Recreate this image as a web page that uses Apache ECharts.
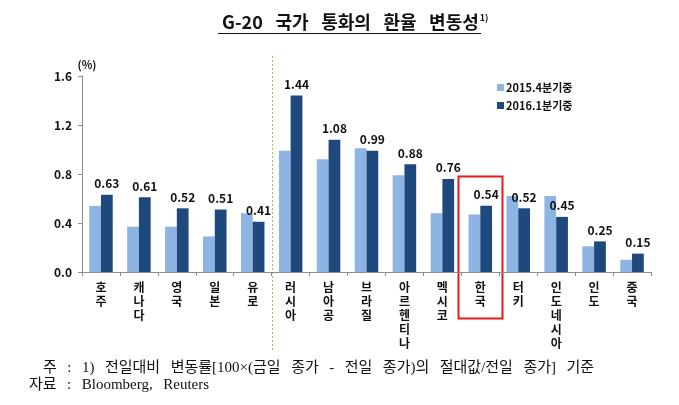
<!DOCTYPE html>
<html><head><meta charset="utf-8">
<script src="https://cdn.jsdelivr.net/npm/echarts@6/dist/echarts.min.js"></script>
<style>html,body{margin:0;padding:0;background:#fff}#c{width:679px;height:405px}</style>
</head><body><div id="c"></div>
<script>
const categories = ['호주','캐나다','영국','일본','유로','러시아','남아공','브라질','아르헨티나','멕시코','한국','터키','인도네시아','인도','중국'];
const q4_2015 = [0.54,0.37,0.37,0.29,0.48,0.99,0.92,1.01,0.79,0.48,0.47,0.62,0.62,0.21,0.10];
const q1_2016 = [0.63,0.61,0.52,0.51,0.41,1.44,1.08,0.99,0.88,0.76,0.54,0.52,0.45,0.25,0.15];
const seriesNames = ['2015.4분기중','2016.1분기중'];
const yMin = 0, yMax = 1.6, yStep = 0.4;
const titleText = 'G-20 국가 통화의 환율 변동성';
const noteLine1 = '주 : 1) 전일대비 변동률[100×(금일 종가 - 전일 종가)의 절대값/전일 종가] 기준';
const noteLine2 = '자료 : Bloomberg, Reuters';

const KR = '"Noto Sans CJK KR", "Noto Sans", sans-serif';
const SERIF = '"Liberation Serif", "DejaVu Serif", "Noto Sans CJK KR", serif';
const wide = s => s.replace(/ /g, '\u2002\u2009');
const chart = echarts.init(document.getElementById('c'), null, {renderer:'canvas'});
const option = {
  animation: false,
  backgroundColor: '#fff',
  title: [
    { text: '{a|' + wide(titleText) + '}{s|1)}', left: 217, top: 8,
      textStyle: { rich: {
        a: { fontFamily: KR, fontSize: 18, fontWeight: 'bold', color: '#111' },
        s: { fontFamily: KR, fontSize: 9, fontWeight: 'bold', color: '#111', padding: [0,0,10,1] }
      } } },
    { text: wide(noteLine1), left: 38, top: 356, textStyle: { fontFamily: SERIF, fontSize: 15, fontWeight: 'normal', color: '#111' } },
    { text: wide(noteLine2), left: 24, top: 373, textStyle: { fontFamily: SERIF, fontSize: 15, fontWeight: 'normal', color: '#111' } }
  ],
  legend: {
    orient: 'vertical', left: 492, top: 77, itemWidth: 7, itemHeight: 7, itemGap: 7,
    icon: 'rect',
    textStyle: { fontFamily: KR, fontSize: 11, fontWeight: 'bold', color: '#111', padding: [0,0,0,-3] },
    data: seriesNames
  },
  grid: { left: 82, right: 28, top: 76, bottom: 133, containLabel: false },
  xAxis: {
    type: 'category', data: categories,
    axisLine: { lineStyle: { color: '#8c8c8c' } },
    axisTick: { show: true, length: 4, lineStyle: { color: '#8c8c8c' } },
    axisLabel: {
      interval: 0, margin: 8, fontFamily: KR, fontSize: 12, fontWeight: 'bold', color: '#111',
      lineHeight: 14, verticalAlign: 'top',
      formatter: v => v.split('').join('\n')
    }
  },
  yAxis: {
    type: 'value', min: yMin, max: yMax, interval: yStep,
    name: '(%)', nameLocation: 'end', nameGap: 6,
    nameTextStyle: { fontFamily: KR, fontSize: 11, fontWeight: 'bold', color: '#111', padding: [0,0,0,10] },
    splitLine: { show: false },
    axisLine: { show: true, lineStyle: { color: '#8c8c8c' } },
    axisTick: { show: true, length: 4, lineStyle: { color: '#8c8c8c' } },
    axisLabel: { margin: 10, fontFamily: KR, fontSize: 12, fontWeight: 'bold', color: '#111',
      formatter: v => v.toFixed(1) }
  },
  series: [
    { name: seriesNames[0], type: 'bar', data: q4_2015, barGap: '0%', barCategoryGap: '38%',
      itemStyle: { color: '#8db4e2' } },
    { name: seriesNames[1], type: 'bar', data: q1_2016, barGap: '0%', barCategoryGap: '38%',
      itemStyle: { color: '#1f497d' },
      label: { show: true, position: 'top', distance: 5, fontFamily: KR, fontSize: 12, fontWeight: 'bold', color: '#111',
        formatter: p => p.value.toFixed(2) } }
  ]
};
chart.setOption(option);

const c0 = chart.convertToPixel({xAxisIndex:0}, categories[0]);
const c1 = chart.convertToPixel({xAxisIndex:0}, categories[1]);
const cw = c1 - c0;
const sepX = Math.round(chart.convertToPixel({xAxisIndex:0}, categories[4]) + cw/2) + 0.5;
const kc = chart.convertToPixel({xAxisIndex:0}, categories[10]);
chart.setOption({
  graphic: [
    { type: 'line', shape: { x1: 218, y1: 33.5, x2: 481, y2: 33.5 }, style: { stroke: '#111', lineWidth: 1 } },
    { type: 'line', shape: { x1: sepX, y1: 56, x2: sepX, y2: 352 }, style: { stroke: '#8fcf4f', lineWidth: 1, lineDash: [2,2] } },
    { type: 'rect', shape: { x: Math.round(kc - cw*0.58)+0.5, y: 176.5, width: Math.round(cw*1.16), height: 142 },
      style: { fill: 'none', stroke: '#e31b1b', lineWidth: 2 } }
  ]
});
</script>
</body></html>
